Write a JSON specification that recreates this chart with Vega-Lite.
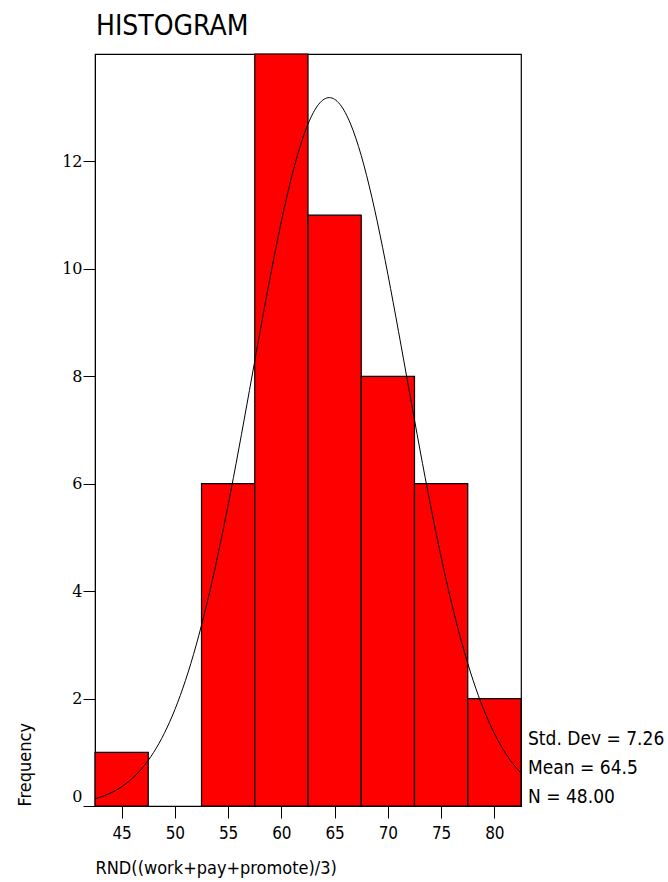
{
  "$schema": "https://vega.github.io/schema/vega-lite/v6.json",
  "autosize": "none",
  "width": 426,
  "height": 752,
  "padding": {"left": 95, "top": 54, "right": 147, "bottom": 76},
  "background": "white",
  "title": {
    "text": "HISTOGRAM",
    "anchor": "start",
    "frame": "group",
    "font": "DejaVu Sans Condensed",
    "fontSize": 28,
    "fontWeight": "normal",
    "color": "#000000",
    "baseline": "bottom",
    "offset": 14,
    "dx": 1,
    "dy": 30
  },
  "config": {
    "view": {"stroke": "#000000", "strokeWidth": 1.2}
  },
  "datasets": {
    "bars": [
      {"bin_start": 42.5, "bin_end": 47.5, "count": 1},
      {"bin_start": 47.5, "bin_end": 52.5, "count": 0},
      {"bin_start": 52.5, "bin_end": 57.5, "count": 6},
      {"bin_start": 57.5, "bin_end": 62.5, "count": 14},
      {"bin_start": 62.5, "bin_end": 67.5, "count": 11},
      {"bin_start": 67.5, "bin_end": 72.5, "count": 8},
      {"bin_start": 72.5, "bin_end": 77.5, "count": 6},
      {"bin_start": 77.5, "bin_end": 82.5, "count": 2}
    ],
    "curve": [
      {"x": 42.5, "y": 0.1337}, {"x": 43.5, "y": 0.2011}, {"x": 44.5, "y": 0.2967},
      {"x": 45.5, "y": 0.4294}, {"x": 46.5, "y": 0.6100}, {"x": 47.5, "y": 0.8503},
      {"x": 48.5, "y": 1.1628}, {"x": 49.5, "y": 1.5603}, {"x": 50.5, "y": 2.0544},
      {"x": 51.5, "y": 2.6541}, {"x": 52.5, "y": 3.3646}, {"x": 53.5, "y": 4.1850},
      {"x": 54.5, "y": 5.1075}, {"x": 55.5, "y": 6.1160}, {"x": 56.5, "y": 7.1865},
      {"x": 57.5, "y": 8.2855}, {"x": 58.5, "y": 9.3728}, {"x": 59.5, "y": 10.4031},
      {"x": 60.5, "y": 11.3308}, {"x": 61.5, "y": 12.1087}, {"x": 62.5, "y": 12.6969},
      {"x": 63.5, "y": 13.0635}, {"x": 64.5, "y": 13.188}, {"x": 65.5, "y": 13.0635},
      {"x": 66.5, "y": 12.6969}, {"x": 67.5, "y": 12.1087}, {"x": 68.5, "y": 11.3308},
      {"x": 69.5, "y": 10.4031}, {"x": 70.5, "y": 9.3728}, {"x": 71.5, "y": 8.2855},
      {"x": 72.5, "y": 7.1865}, {"x": 73.5, "y": 6.1160}, {"x": 74.5, "y": 5.1075},
      {"x": 75.5, "y": 4.1850}, {"x": 76.5, "y": 3.3646}, {"x": 77.5, "y": 2.6541},
      {"x": 78.5, "y": 2.0544}, {"x": 79.5, "y": 1.5603}, {"x": 80.5, "y": 1.1628},
      {"x": 81.5, "y": 0.8503}, {"x": 82.5, "y": 0.6100}
    ],
    "stats": [
      {"label": "Std. Dev = 7.26\nMean = 64.5\nN = 48.00"}
    ]
  },
  "layer": [
    {
      "data": {"name": "bars"},
      "transform": [{"filter": "datum.count > 0"}],
      "mark": {"type": "rect", "fill": "#FF0000", "stroke": "#000000", "strokeWidth": 1.2},
      "encoding": {
        "x": {
          "field": "bin_start",
          "type": "quantitative",
          "scale": {"domain": [42.5, 82.5], "nice": false, "zero": false},
          "axis": {
            "values": [45, 50, 55, 60, 65, 70, 75, 80],
            "title": "RND((work+pay+promote)/3)",
            "grid": false,
            "domainColor": "#000000",
            "tickColor": "#000000",
            "tickSize": 12,
            "labelFont": "DejaVu Sans Condensed",
            "labelFontSize": 17,
            "labelColor": "#000000",
            "labelPadding": 7,
            "titleFont": "DejaVu Sans Condensed",
            "titleFontSize": 18,
            "titleFontWeight": "normal",
            "titleColor": "#000000",
            "titleAnchor": "start",
            "titleAlign": "left",
            "titleX": 0,
            "titleY": 62,
            "titleBaseline": "middle"
          }
        },
        "x2": {"field": "bin_end"},
        "y": {
          "field": "count",
          "type": "quantitative",
          "scale": {"domain": [0, 14], "nice": false},
          "axis": {
            "values": [0, 2, 4, 6, 8, 10, 12],
            "title": "Frequency",
            "grid": false,
            "domainColor": "#000000",
            "tickColor": "#000000",
            "tickSize": 12,
            "labelFont": "DejaVu Serif",
            "labelFontSize": 16,
            "labelColor": "#000000",
            "labelPadding": 1,
            "labelOffset": {"condition": {"test": "datum.value == 0", "value": -10}, "value": 0},
            "titleFont": "DejaVu Sans Condensed",
            "titleFontSize": 18,
            "titleFontWeight": "normal",
            "titleColor": "#000000",
            "titleAngle": -90,
            "titleAlign": "left",
            "titleBaseline": "middle",
            "titleX": -70,
            "titleY": 752
          }
        },
        "y2": {"datum": 0}
      }
    },
    {
      "data": {"name": "curve"},
      "mark": {"type": "line", "color": "#000000", "strokeWidth": 1, "interpolate": "monotone", "clip": true},
      "encoding": {
        "x": {"field": "x", "type": "quantitative"},
        "y": {"field": "y", "type": "quantitative"}
      }
    },
    {
      "data": {"name": "stats"},
      "mark": {
        "type": "text",
        "align": "left",
        "baseline": "middle",
        "lineBreak": "\n",
        "lineHeight": 29,
        "dx": 7,
        "dy": -67,
        "font": "DejaVu Sans Condensed",
        "fontSize": 19,
        "color": "#000000",
        "clip": false
      },
      "encoding": {
        "x": {"datum": 82.5, "type": "quantitative"},
        "y": {"datum": 0, "type": "quantitative"},
        "text": {"field": "label"}
      }
    }
  ]
}
